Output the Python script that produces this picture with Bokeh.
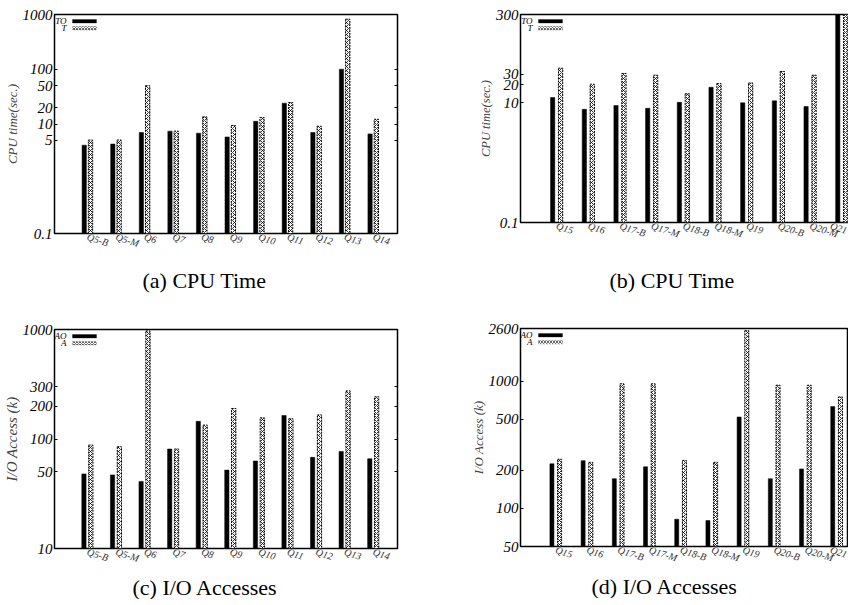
import math
from bokeh.plotting import figure
from bokeh.layouts import row, column
from bokeh.models import (FixedTicker, PrintfTickFormatter, LogAxis, CustomJSTickFormatter,
                          BoxAnnotation, Label, Title, Range1d, ColumnDataSource)
from bokeh.embed import file_html
from bokeh.resources import INLINE

# ---------------- data ----------------
cats_a = ["Q5-B", "Q5-M", "Q6", "Q7", "Q8", "Q9", "Q10", "Q11", "Q12", "Q13", "Q14"]
cpu_to_a = [4.1, 4.3, 7.0, 7.4, 6.8, 5.8, 11.2, 24, 7.0, 100, 6.6]
cpu_t_a = [5.1, 5.1, 50, 7.4, 13.5, 9.4, 13.1, 24.7, 9.1, 820, 12.2]
yticks_a = [0.1, 5, 10, 20, 50, 100, 1000]

cats_b = ["Q15", "Q16", "Q17-B", "Q17-M", "Q18-B", "Q18-M", "Q19", "Q20-B", "Q20-M", "Q21"]
cpu_to_b = [12.3, 7.8, 9.0, 8.1, 10.2, 18.2, 10.0, 10.8, 8.7, 300]
cpu_t_b = [38, 20.5, 31, 29, 14.2, 21, 21.5, 33.5, 29, 300]
yticks_b = [0.1, 10, 20, 30, 300]

io_ao_c = [48, 47, 41, 81, 145, 52, 63, 164, 68, 77, 66]
io_a_c = [88, 85, 970, 81, 134, 190, 156, 153, 166, 275, 243]
yticks_c = [10, 50, 100, 200, 300, 1000]

io_ao_d = [224, 237, 171, 212, 82, 80, 523, 171, 204, 631]
io_a_d = [243, 230, 953, 953, 238, 230, 2500, 929, 929, 752]
yticks_d = [50, 100, 200, 500, 1000, 2600]

SERIF = "Liberation Serif"


def make_panel(cats, dark, light, names, ylabel, yticks, yr, caption, cap_offset, cap_standoff,
               bl, br, bt, bb, fw, fh, xr, off, bw, ylabel_size, right_axis):
    p = figure(frame_width=fw, frame_height=fh, x_range=Range1d(*xr), y_range=Range1d(*yr),
               y_axis_type="log", output_backend="svg", toolbar_location=None,
               min_border_left=bl, min_border_right=br, min_border_top=bt, min_border_bottom=bb)
    p.background_fill_color = "white"
    p.border_fill_color = "white"
    p.outline_line_color = "black"
    p.outline_line_width = 1.5
    p.xgrid.visible = False
    p.ygrid.visible = False

    n = len(cats)
    src = ColumnDataSource(dict(
        xd=[i - off for i in range(n)], xl=[i + off for i in range(n)],
        dark=dark, light=light))
    p.vbar(x="xd", top="dark", bottom=yr[0], width=bw, source=src,
           fill_color="black", line_color="black", line_width=0.5)
    p.vbar(x="xl", top="light", bottom=yr[0], width=bw, source=src,
           fill_color="white", line_color="black", line_width=1, line_dash="2 1",
           hatch_pattern="x", hatch_scale=4, hatch_weight=0.8, hatch_color="black")

    # x axis
    xa = p.xaxis[0]
    xa.ticker = FixedTicker(ticks=list(range(n)))
    xa.major_label_overrides = {i: c for i, c in enumerate(cats)}
    xa.major_label_orientation = -0.3
    xa.major_label_text_font = SERIF
    xa.major_label_text_font_style = "italic"
    xa.major_label_text_font_size = "10px"
    xa.major_label_text_color = "#333333"
    xa.major_label_standoff = 3
    xa.major_tick_in = 0
    xa.major_tick_out = 0
    xa.major_tick_line_color = None
    xa.minor_tick_line_color = None
    xa.axis_line_color = None

    # y axis
    ya = p.yaxis[0]
    ya.ticker = FixedTicker(ticks=yticks)
    ya.formatter = PrintfTickFormatter(format="%g")
    ya.major_label_text_font = SERIF
    ya.major_label_text_font_style = "italic"
    ya.major_label_text_font_size = "15px"
    ya.major_label_text_color = "black"
    ya.major_label_standoff = 2
    ya.major_tick_in = 3
    ya.major_tick_out = 0
    ya.minor_tick_line_color = None
    ya.axis_line_color = None
    ya.axis_label = ylabel
    ya.axis_label_text_font = SERIF
    ya.axis_label_text_font_style = "italic"
    ya.axis_label_text_font_size = ylabel_size
    ya.axis_label_standoff = 0

    if right_axis:
        ra = LogAxis(ticker=FixedTicker(ticks=yticks),
                     formatter=CustomJSTickFormatter(code="return ''"))
        ra.major_tick_in = 3
        ra.major_tick_out = 0
        ra.minor_tick_line_color = None
        ra.axis_line_color = None
        ra.major_label_standoff = 0
        p.add_layout(ra, "right")

    # legend (top-left inside the frame)
    lx0, lx1 = xr
    ly0, ly1 = math.log10(yr[0]), math.log10(yr[1])

    def dx(px):
        return lx0 + px / fw * (lx1 - lx0)

    def dy(px):
        return 10 ** (ly1 - px / fh * (ly1 - ly0))

    p.add_layout(BoxAnnotation(left=dx(18), right=dx(42), top=dy(5), bottom=dy(8.5),
                               fill_color="black", fill_alpha=1, line_color="black"))
    p.add_layout(BoxAnnotation(left=dx(18), right=dx(42), top=dy(12), bottom=dy(15.5),
                               fill_color="white", fill_alpha=1, line_color="black",
                               line_width=0.8, line_dash="2 1",
                               hatch_pattern="x", hatch_scale=3, hatch_weight=0.6,
                               hatch_color="black"))
    for txt, yy in ((names[0], 6.5), (names[1], 13.5)):
        p.add_layout(Label(x=dx(12), y=dy(yy), text=txt, text_align="right",
                           text_baseline="middle", text_font=SERIF,
                           text_font_style="italic", text_font_size="9px",
                           text_color="black"))

    t = Title(text=caption, align="left", offset=cap_offset, standoff=cap_standoff,
              text_font=SERIF, text_font_size="22px", text_font_style="normal",
              text_color="black")
    p.add_layout(t, "below")
    return p


pa = make_panel(cats_a, cpu_to_a, cpu_t_a, ("TO", "T"), "CPU time(sec.)", yticks_a, (0.1, 1000),
                "(a) CPU Time", 88, 17,
                47, 32, 14, 65, 343, 219, (-1.15, 10.85), 0.11, 0.15, "13px", True)
pb = make_panel(cats_b, cpu_to_b, cpu_t_b, ("TO", "T"), "CPU time(sec.)", yticks_b, (0.1, 300),
                "(b) CPU Time", 89, 36,
                86, 1, 14, 84, 332, 208, (-1.14, 9.34), 0.125, 0.135, "12.5px", False)
pc = make_panel(cats_a, io_ao_c, io_a_c, ("AO", "A"), "I/O Access (k)", yticks_c, (10, 1000),
                "(c) I/O Accesses", 78, 0,
                47, 32, 28, 50, 343, 219, (-1.15, 10.85), 0.12, 0.15, "15px", True)
pd = make_panel(cats_b, io_ao_d, io_a_d, ("AO", "A"), "I/O Access (k)", yticks_d, (50, 2600),
                "(d) I/O Accesses", 71, 0,
                91, 1, 18, 50, 327, 218, (-1.13, 9.35), 0.123, 0.13, "13px", False)

layout = row(column(pa, pc), column(pb, pd))
open("out.html", "w").write(file_html(layout, INLINE))
